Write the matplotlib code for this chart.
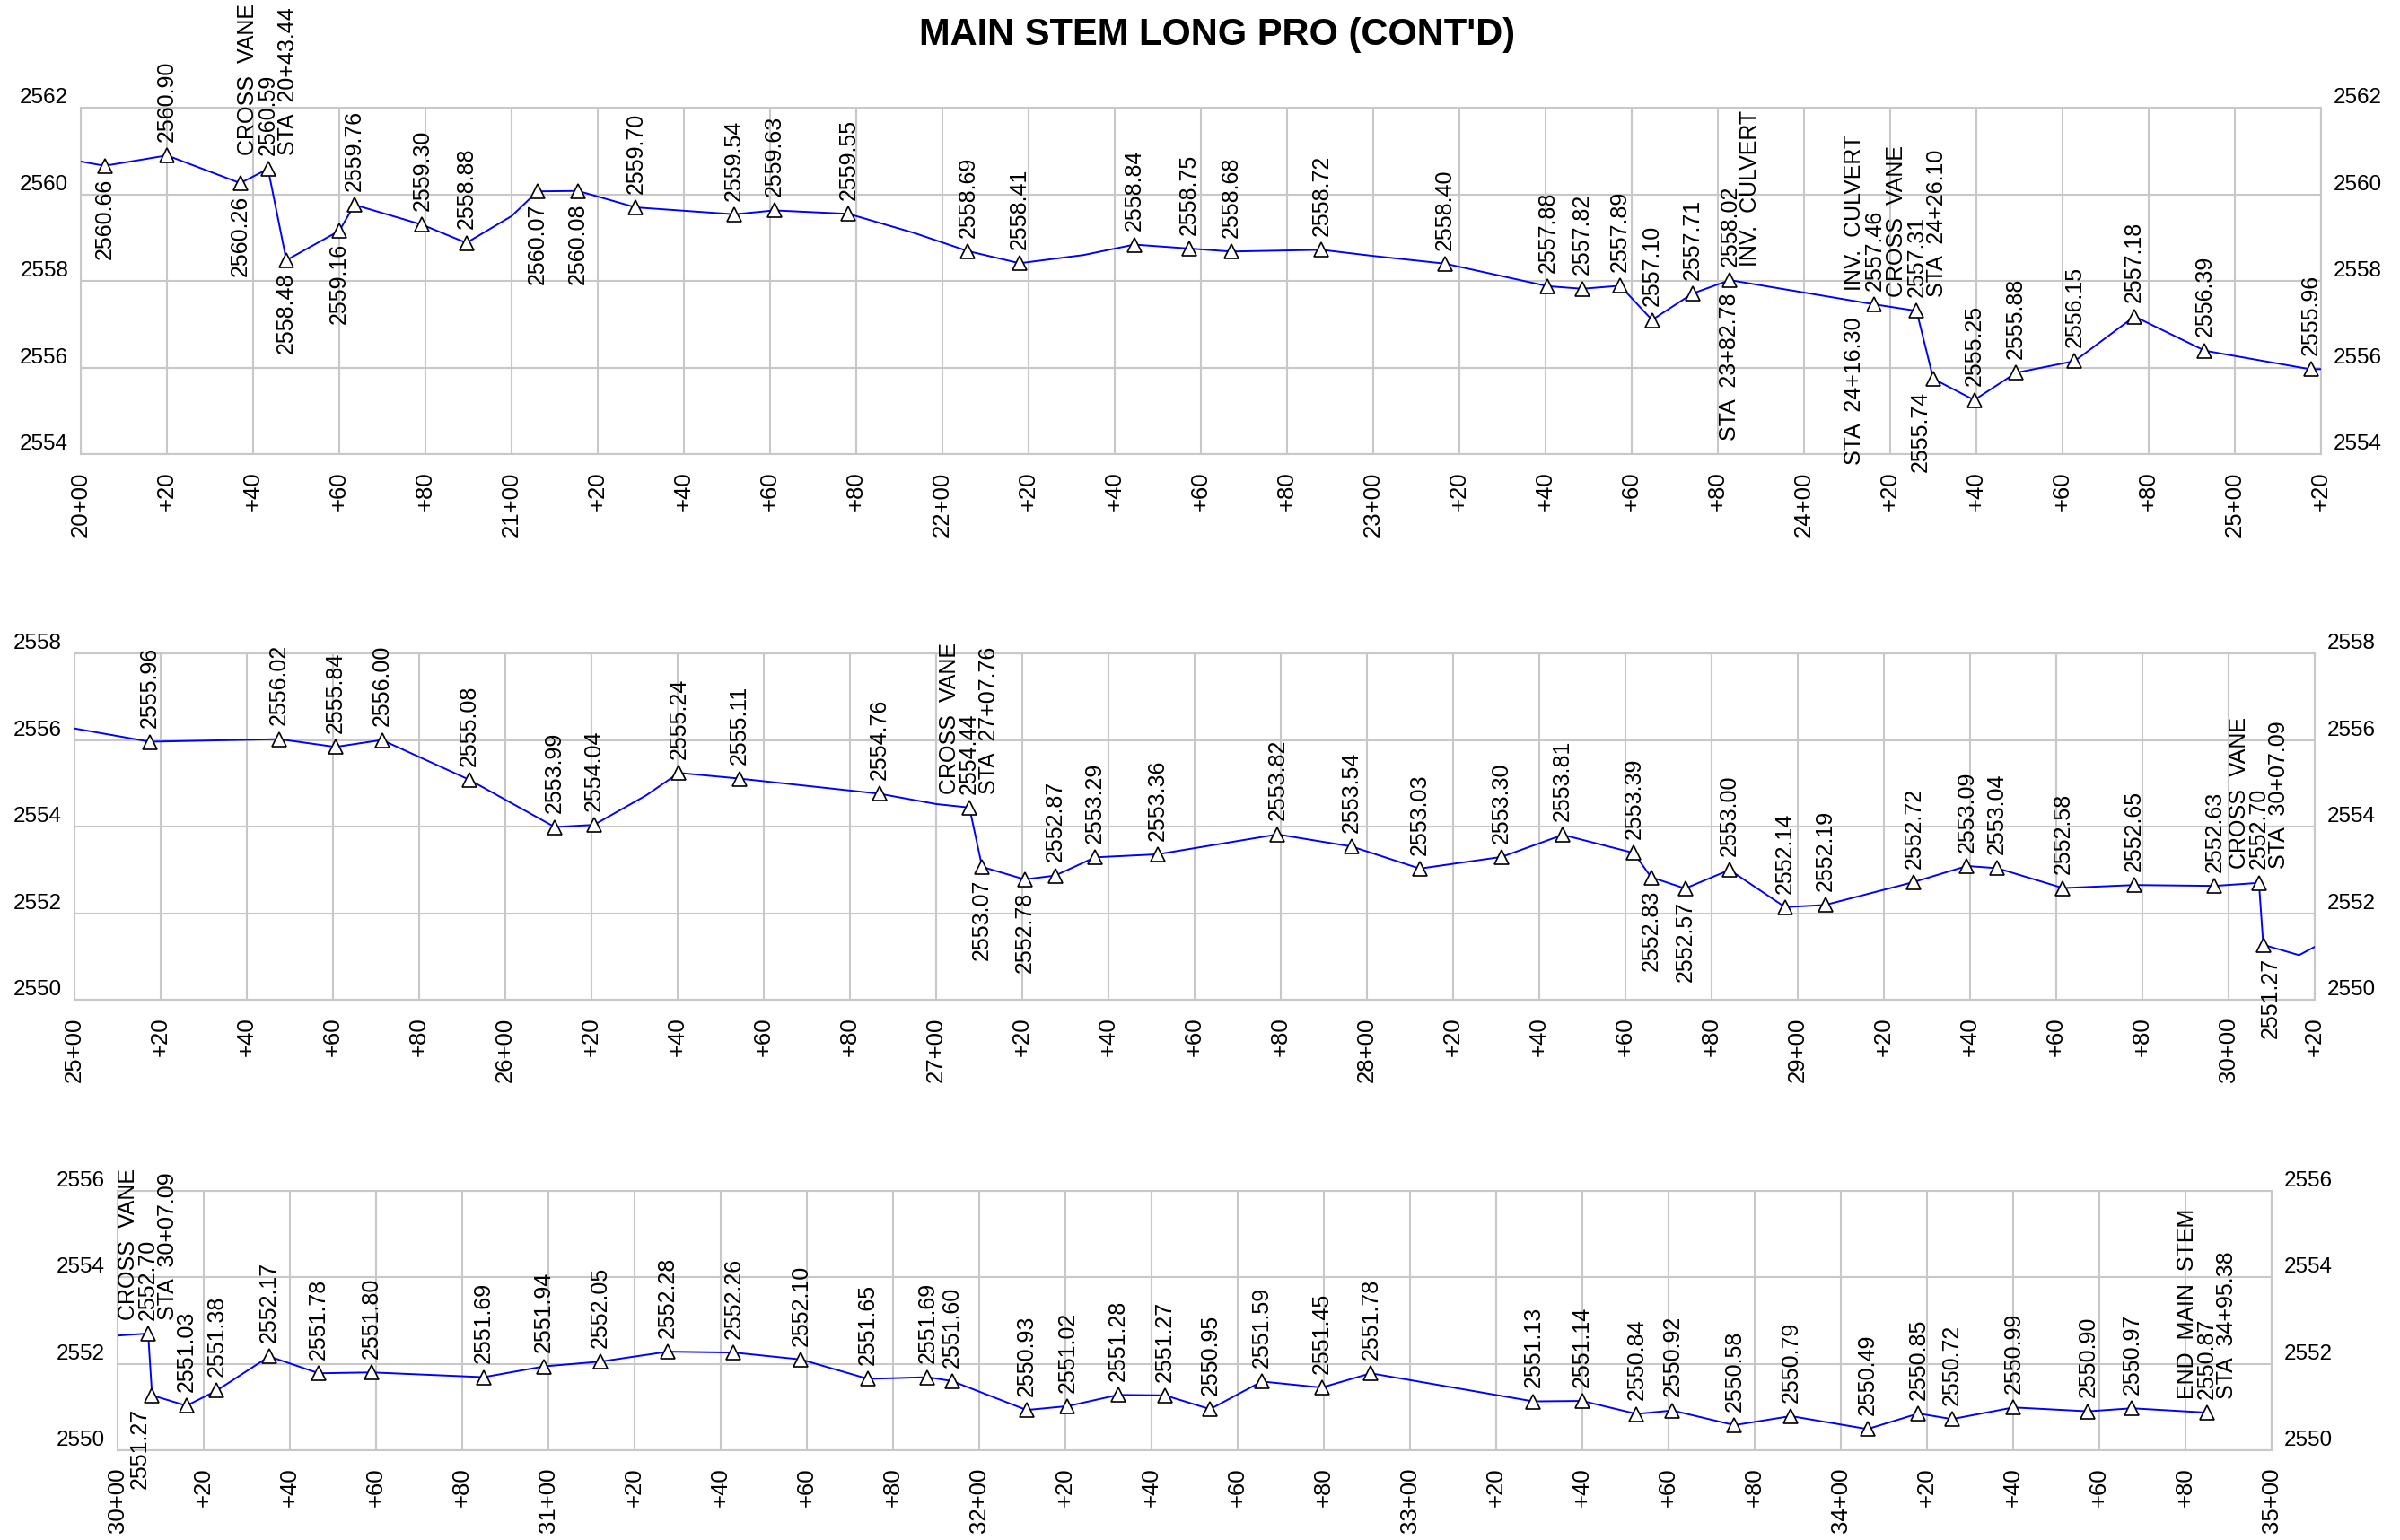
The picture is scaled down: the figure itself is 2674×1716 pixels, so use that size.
import numpy as np
import matplotlib
matplotlib.use("Agg")
import matplotlib.pyplot as plt

plt.rcParams['font.family'] = ['Liberation Sans', 'DejaVu Sans']

TITLE = "MAIN STEM LONG PRO (CONT'D)"

# ---- panel 1 : 20+00 to 25+20 (stations in ft) ----
P1_STA = [2005.5, 2020.0, 2037.0, 2043.44, 2047.7, 2060.0, 2063.5, 2079.2, 2089.5, 2106.0,
          2115.4, 2128.8, 2151.7, 2161.0, 2178.2, 2205.9, 2217.9, 2244.5, 2257.2, 2267.0,
          2288.0, 2316.7, 2340.5, 2348.5, 2357.3, 2364.7, 2374.1, 2382.78, 2416.30, 2426.10,
          2430.0, 2439.5, 2449.2, 2462.8, 2476.7, 2493.0, 2517.6]
P1_ELEV = [2560.66, 2560.90, 2560.26, 2560.59, 2558.48, 2559.16, 2559.76, 2559.30, 2558.88, 2560.07,
           2560.08, 2559.70, 2559.54, 2559.63, 2559.55, 2558.69, 2558.41, 2558.84, 2558.75, 2558.68,
           2558.72, 2558.40, 2557.88, 2557.82, 2557.89, 2557.10, 2557.71, 2558.02, 2557.46, 2557.31,
           2555.74, 2555.25, 2555.88, 2556.15, 2557.18, 2556.39, 2555.96]
# line vertices without a survey mark
P1_VTX_STA = [1995.0, 2100.0, 2193.4, 2232.8, 2299.8, 2547.5]
P1_VTX_ELEV = [2560.85, 2559.50, 2559.11, 2558.60, 2558.58, 2556.02]
P1_BELOW = [0, 2, 4, 5, 9, 10, 30]
P1_NOTES = {
    3: [("CROSS  VANE", -1, "above"), ("STA  20+43.44", 1, "above")],
    27: [("INV.  CULVERT", 1, "above"), ("STA  23+82.78", 0, "below")],
    28: [("INV.  CULVERT", -1, "above"), ("STA  24+16.30", -1, "below")],
    29: [("CROSS  VANE", -1, "above"), ("STA  24+26.10", 1, "above")],
}
P1_SHIFT = {30: -10}

# ---- panel 2 : 25+00 to 30+20 ----
P2_STA = [2517.5, 2547.5, 2560.6, 2571.4, 2591.7, 2611.5, 2620.6, 2640.3, 2654.3, 2686.8,
          2707.76, 2710.7, 2720.6, 2727.7, 2736.9, 2751.4, 2779.3, 2796.5, 2812.3, 2831.3,
          2845.5, 2862.0, 2866.0, 2873.9, 2884.2, 2897.1, 2906.4, 2927.0, 2939.3, 2946.3,
          2961.6, 2978.2, 2996.8, 3007.09, 3008.1]
P2_ELEV = [2555.96, 2556.02, 2555.84, 2556.00, 2555.08, 2553.99, 2554.04, 2555.24, 2555.11, 2554.76,
           2554.44, 2553.07, 2552.78, 2552.87, 2553.29, 2553.36, 2553.82, 2553.54, 2553.03, 2553.30,
           2553.81, 2553.39, 2552.83, 2552.57, 2553.00, 2552.14, 2552.19, 2552.72, 2553.09, 2553.04,
           2552.58, 2552.65, 2552.63, 2552.70, 2551.27]
P2_VTX_STA = [2493.0, 2632.7, 2700.1, 3016.4, 3023.0]
P2_VTX_ELEV = [2556.39, 2554.72, 2554.52, 2551.03, 2551.38]
P2_BELOW = [11, 12, 22, 23, 34]
P2_NOTES = {
    10: [("CROSS  VANE", -1, "above"), ("STA  27+07.76", 1, "above")],
    33: [("CROSS  VANE", -1, "above"), ("STA  30+07.09", 1, "above")],
}
P2_SHIFT = {34: 6}

# ---- panel 3 : 30+00 to 35+00 ----
P3_STA = [3007.09, 3008.0, 3016.0, 3023.0, 3035.2, 3046.7, 3059.0, 3085.0, 3099.0, 3112.0,
          3127.7, 3143.0, 3158.6, 3174.2, 3188.0, 3193.7, 3211.0, 3220.5, 3232.3, 3243.1,
          3253.6, 3265.6, 3279.5, 3290.9, 3328.6, 3340.0, 3352.6, 3360.9, 3375.3, 3388.4,
          3406.2, 3418.0, 3425.8, 3440.1, 3457.4, 3467.6, 3485.0]
P3_ELEV = [2552.70, 2551.27, 2551.03, 2551.38, 2552.17, 2551.78, 2551.80, 2551.69, 2551.94, 2552.05,
           2552.28, 2552.26, 2552.10, 2551.65, 2551.69, 2551.60, 2550.93, 2551.02, 2551.28, 2551.27,
           2550.95, 2551.59, 2551.45, 2551.78, 2551.13, 2551.14, 2550.84, 2550.92, 2550.58, 2550.79,
           2550.49, 2550.85, 2550.72, 2550.99, 2550.90, 2550.97, 2550.87]
P3_VTX_STA = [2996.8]
P3_VTX_ELEV = [2552.63]
P3_BELOW = [1]
P3_NOTES = {
    0: [("CROSS  VANE", -1, "above"), ("STA  30+07.09", 1, "above")],
    36: [("END  MAIN  STEM", -1, "above"), ("STA  34+95.38", 1, "above")],
}
P3_SHIFT = {1: -10}

LINE_PT = 16      # spacing between stacked rotated text lines
LABEL_FS = 18
GRID = '#c8c8c8'


def sta_label(s):
    s = int(round(s))
    if s % 100 == 0:
        return f"{s // 100}+00"
    return f"+{s % 100:02d}"


def draw_panel(fig, rect, sta, elev, vtx_sta, vtx_elev, below, notes, shift, xlim, ylim):
    ax = fig.add_axes(rect)
    xs = np.concatenate([sta, vtx_sta])
    ys = np.concatenate([elev, vtx_elev])
    order = np.argsort(xs)
    ax.plot(xs[order], ys[order], color='#0000ff', lw=1.4, zorder=3)
    ax.plot(sta, elev, ls='none', marker='^', ms=12, mfc='white', mec='black', mew=1.2,
            zorder=4, clip_on=False)
    ax.set_xlim(xlim)
    ax.set_ylim(ylim)

    xt = np.arange(xlim[0], xlim[1] + 1, 20)
    ax.set_xticks(xt)
    ax.set_xticklabels([sta_label(v) for v in xt], rotation=90, fontsize=18.5)
    yt = np.arange(ylim[0], ylim[1] + 1, 2)
    ax.set_yticks(yt)
    ax.set_yticklabels([str(v) for v in yt], fontsize=17.5)
    ax.tick_params(axis='x', length=0, pad=14)
    ax.tick_params(axis='y', length=0, pad=10, labelright=True)
    for tick in ax.yaxis.get_major_ticks():
        tick.label1.set_va('bottom')
        tick.label2.set_va('bottom')
    ax.grid(color=GRID, lw=1.5)
    ax.set_axisbelow(True)
    for sp in ax.spines.values():
        sp.set_color(GRID)
        sp.set_linewidth(1.5)

    for i, (x, y) in enumerate(zip(sta, elev)):
        side = 'below' if i in below else 'above'
        lines = [(f"{y:.2f}", 0, side)] + notes.get(i, [])
        for text, k, where in lines:
            dx = k * LINE_PT + shift.get(i, 0)
            if where == 'above':
                ax.annotate(text, (x, y), xytext=(dx, 11), textcoords='offset points',
                            rotation=90, ha='center', va='bottom', fontsize=LABEL_FS)
            else:
                ax.annotate(text, (x, y), xytext=(dx, -10), textcoords='offset points',
                            rotation=90, ha='center', va='top', fontsize=LABEL_FS)
    return ax


fig = plt.figure(figsize=(26.74, 17.16), dpi=100)
fig.text(0.507, 0.977, TITLE, ha='center', va='center', fontsize=30, fontweight='bold')

draw_panel(fig, [0.0337, 0.7051, 0.9334, 0.2249], P1_STA, P1_ELEV, P1_VTX_STA, P1_VTX_ELEV,
           P1_BELOW, P1_NOTES, P1_SHIFT, (2000, 2520), (2554, 2562))
draw_panel(fig, [0.0310, 0.3508, 0.9334, 0.2249], P2_STA, P2_ELEV, P2_VTX_STA, P2_VTX_ELEV,
           P2_BELOW, P2_NOTES, P2_SHIFT, (2500, 3020), (2550, 2558))
draw_panel(fig, [0.0490, 0.0583, 0.8975, 0.1684], P3_STA, P3_ELEV, P3_VTX_STA, P3_VTX_ELEV,
           P3_BELOW, P3_NOTES, P3_SHIFT, (3000, 3500), (2550, 2556))

fig.savefig('out.png', dpi=100)
